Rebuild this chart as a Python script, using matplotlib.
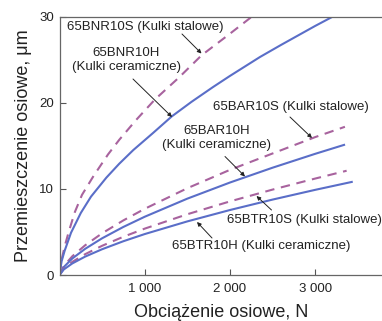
import matplotlib
matplotlib.use("Agg")
import matplotlib.pyplot as plt

plt.rcParams['font.family'] = ['Liberation Sans', 'DejaVu Sans']

# Axial load (N) and axial displacement (um)
bnr10s_x = [0, 25, 60, 108, 180, 264, 400, 570, 702, 900, 1123, 1400, 1668, 2000, 2260]
bnr10s_y = [0, 1.8, 3.3, 5.0, 7.3, 9.3, 11.5, 14.0, 15.7, 18.0, 20.4, 22.9, 25.5, 28.0, 30.0]

bnr10h_x = [0, 25, 60, 135, 250, 370, 550, 700, 866, 1100, 1317, 1550, 1800, 2000,
            2353, 2600, 2800, 3000, 3210]
bnr10h_y = [0, 1.6, 2.8, 4.9, 7.2, 9.1, 11.3, 12.9, 14.5, 16.5, 18.4, 20.1, 21.8, 23.1,
            25.3, 26.7, 27.8, 28.9, 30.0]

bar10s_x = [0, 50, 150, 300, 500, 750, 1000, 1500, 2000, 2500, 3000, 3350]
bar10s_y = [0, 1.04, 2.17, 3.44, 4.84, 6.34, 7.68, 10.07, 12.2, 14.1, 16.0, 17.2]

bar10h_x = [0, 50, 150, 300, 500, 750, 1000, 1500, 2000, 2500, 3000, 3340]
bar10h_y = [0, 0.92, 1.91, 3.03, 4.26, 5.58, 6.76, 8.86, 10.73, 12.45, 14.06, 15.1]

btr10s_x = [0, 50, 150, 300, 500, 750, 1000, 1500, 2000, 2500, 3000, 3370]
btr10s_y = [0, 0.73, 1.52, 2.41, 3.39, 4.44, 5.38, 7.05, 8.54, 9.91, 11.19, 12.1]

btr10h_x = [0, 50, 150, 300, 500, 750, 1000, 1500, 2000, 2500, 3000, 3430]
btr10h_y = [0, 0.64, 1.34, 2.13, 2.99, 3.92, 4.75, 6.22, 7.54, 8.75, 9.88, 10.8]

x_ticks = [1000, 2000, 3000]
x_tick_labels = ['1 000', '2 000', '3 000']
y_ticks = [0, 10, 20, 30]

BLUE = '#5a6ec8'
PURPLE = '#a8639e'

W, H = 382, 321
fig = plt.figure(figsize=(W / 100, H / 100), dpi=100)
ax = fig.add_axes([59.5 / W, (H - 275) / H, (W - 59.5) / W, (275 - 16.5) / H])

lw = 1.5
dash = (0, (4.5, 3.2))
ax.plot(bnr10s_x, bnr10s_y, color=PURPLE, lw=lw, linestyle=dash)
ax.plot(bnr10h_x, bnr10h_y, color=BLUE, lw=lw)
ax.plot(bar10s_x, bar10s_y, color=PURPLE, lw=lw, linestyle=dash)
ax.plot(bar10h_x, bar10h_y, color=BLUE, lw=lw)
ax.plot(btr10s_x, btr10s_y, color=PURPLE, lw=lw, linestyle=dash)
ax.plot(btr10h_x, btr10h_y, color=BLUE, lw=lw)

ax.set_xlim(0, (W - 59.5) / 85.2 * 1000)
ax.set_ylim(0, 30)
ax.set_xticks(x_ticks)
ax.set_xticklabels(x_tick_labels)
ax.set_yticks(y_ticks)
ax.tick_params(direction='in', length=4, width=0.8, color='#555555',
               labelsize=9.5, labelcolor='#222222')
ax.tick_params(axis='x', pad=6)
ax.tick_params(axis='y', pad=4)
for s in ['left', 'bottom', 'top']:
    ax.spines[s].set_color('#666666')
    ax.spines[s].set_linewidth(0.9)
ax.spines['right'].set_visible(False)

ax.set_xlabel('Obciążenie osiowe, N', fontsize=13, color='#222222', labelpad=6)
ax.set_ylabel('Przemieszczenie osiowe, μm', fontsize=13, color='#222222', labelpad=5)

def px2data(px, py):
    x = (px - 59.5) / 85.2 * 1000
    y = (275 - py) / (275 - 16.5) * 30
    return x, y

fs = 9.5
tc = '#222222'
arrow = dict(arrowstyle='-|>', color='#222222', lw=0.7, mutation_scale=6,
             shrinkA=0, shrinkB=0)

def note(text, tx, ty, ax_, ay_, xy_px, ha='left'):
    ax.annotate(text, xy=px2data(*xy_px), xytext=px2data(tx, ty),
                ha=ha, va='center', fontsize=fs, color=tc,
                linespacing=1.15)
    ax.annotate('', xy=px2data(*xy_px), xytext=px2data(ax_, ay_),
                arrowprops=arrow)

note('65BNR10S (Kulki stalowe)', 67, 27, 182, 34, (201.5, 53.5))
note('65BNR10H\n(Kulki ceramiczne)', 126, 60, 133, 79, (172, 117), ha='center')
note('65BAR10S (Kulki stalowe)', 213, 107, 290, 117, (312, 138))
note('65BAR10H\n(Kulki ceramiczne)', 217, 138, 225, 156.5, (245, 176.5), ha='center')
note('65BTR10S (Kulki stalowe)', 227, 220, 271.5, 210, (256.5, 196))
note('65BTR10H (Kulki ceramiczne)', 172, 246, 212, 238, (197, 222))

fig.savefig('out.png', dpi=100)
